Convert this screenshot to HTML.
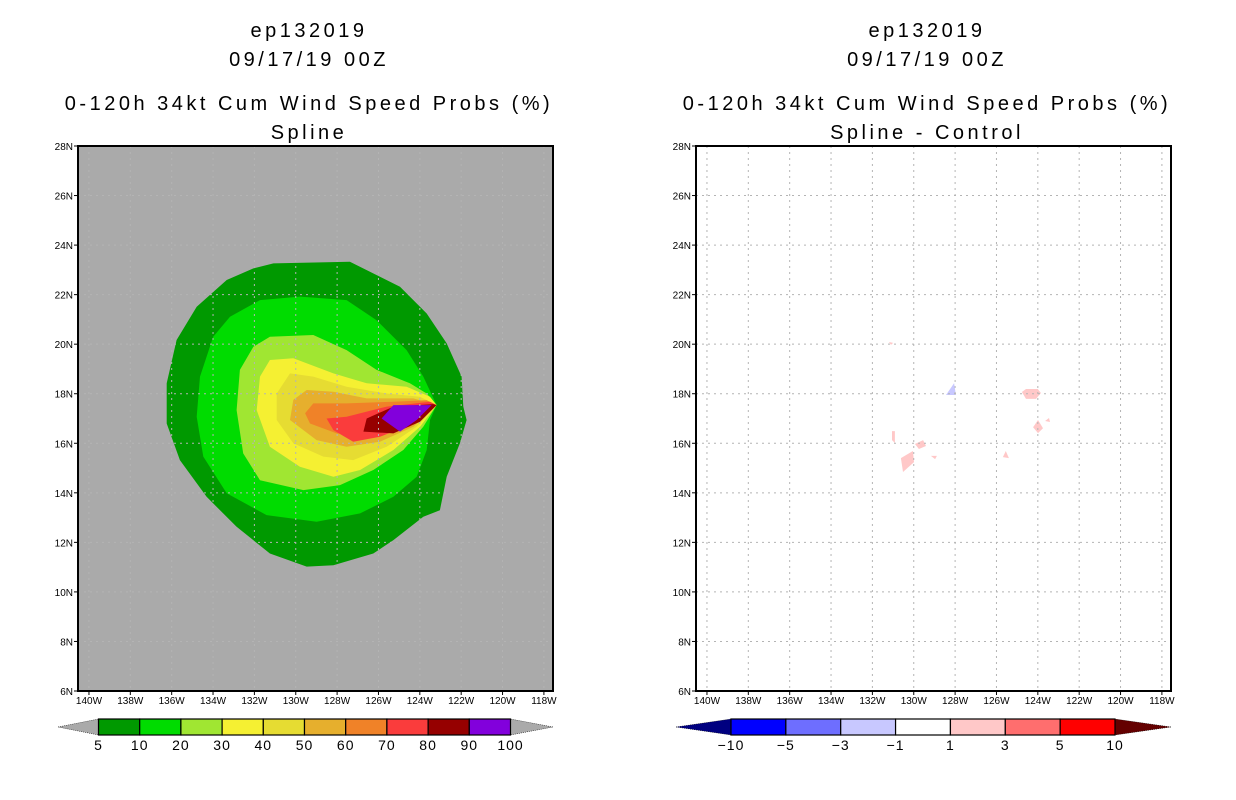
<!DOCTYPE html>
<html><head><meta charset="utf-8"><style>
body{margin:0;background:#fff;}
svg{display:block;font-family:"Liberation Sans",sans-serif;}
</style></head><body>
<svg id="s" width="1236" height="800"></svg>
<script>
const NS="http://www.w3.org/2000/svg";
const svg=document.getElementById('s');
// ---- data ----
const latTicks=[28,26,24,22,20,18,16,14,12,10,8,6];
const lonTicks=[140,138,136,134,132,130,128,126,124,122,120,118];
const leftLevels=["5","10","20","30","40","50","60","70","80","90","100"];
const leftColors=["#009900","#00dc00","#a0e632","#f5f032","#e6dc32","#e6af2d","#f08228","#fa3c3c","#960000","#8200dc"];
const rightLevels=["-10","-5","-3","-1","1","3","5","10"];
const rightColors=["#0000ff","#6e6eff","#c8c8ff","#ffffff","#ffc8c8","#ff6e6e","#ff0000"];
const c5Lon=[-131.08,-127.38,-124.96,-123.67,-122.70,-121.98,-121.90,-121.74,-122.06,-122.70,-123.03,-123.83,-125.28,-126.25,-128.18,-129.47,-131.25,-132.86,-134.31,-135.60,-136.24,-136.24,-135.76,-134.79,-133.34,-132.05];
const c5Lat=[23.26,23.33,22.32,21.24,20.03,18.69,17.48,16.94,16.00,14.65,13.30,13.03,12.09,11.55,11.08,11.02,11.55,12.63,13.84,15.32,16.80,18.42,20.17,21.51,22.59,23.06];
const c10Lon=[-131.73,-129.80,-127.54,-126.09,-124.64,-123.83,-123.19,-123.51,-123.67,-124.15,-125.28,-126.89,-128.99,-131.41,-133.34,-134.47,-134.79,-134.63,-133.99,-133.18];
const c10Lat=[21.78,21.92,21.78,20.97,19.76,18.69,17.54,16.94,15.73,14.65,13.84,13.17,12.83,13.10,13.98,15.46,17.07,18.69,20.30,21.11];
const c20Lon=[-131.25,-129.15,-127.54,-126.09,-124.48,-123.67,-123.19,-123.83,-124.80,-126.25,-127.86,-129.63,-131.73,-132.54,-132.86,-132.70,-132.05];
const c20Lat=[20.30,20.37,19.76,18.96,18.42,18.01,17.54,16.67,15.73,14.92,14.31,14.11,14.51,15.59,17.34,18.96,19.90];
const c30Lon=[-131.25,-130.12,-128.18,-126.57,-124.64,-123.51,-123.19,-123.99,-125.28,-126.89,-128.18,-129.80,-131.25,-131.89,-131.73];
const c30Lat=[19.36,19.43,18.82,18.42,18.28,17.88,17.54,16.67,15.73,14.92,14.65,15.05,15.86,17.34,18.69];
const c40Lon=[-130.28,-129.15,-127.54,-125.60,-123.99,-123.19,-124.15,-125.60,-127.22,-128.67,-130.12,-130.92,-130.92];
const c40Lat=[18.82,18.69,18.28,18.01,17.88,17.54,16.67,15.86,15.32,15.46,16.00,16.94,18.01];
const c50Lon=[-129.47,-128.18,-126.57,-124.31,-123.19,-124.31,-125.93,-127.54,-128.99,-130.28,-130.12];
const c50Lat=[18.15,18.08,17.81,17.81,17.54,16.67,16.06,15.86,16.13,16.94,17.75];
const c60Lon=[-129.15,-127.54,-125.28,-123.67,-123.19,-124.48,-126.25,-128.02,-129.31,-129.55];
const c60Lat=[17.61,17.61,17.68,17.74,17.54,16.67,16.26,16.40,16.80,17.21];
const c70Lon=[-128.51,-127.54,-125.60,-123.51,-123.19,-124.31,-125.93,-127.22,-128.18];
const c70Lat=[17.00,17.07,17.48,17.68,17.54,16.80,16.26,16.06,16.53];
const c80Lon=[-126.57,-125.28,-123.35,-123.19,-123.99,-125.28,-126.73];
const c80Lat=[17.00,17.48,17.58,17.54,16.87,16.40,16.47];
const c90Lon=[-125.85,-125.28,-123.43,-124.15,-124.96];
const c90Lat=[17.00,17.54,17.54,16.94,16.47];
const blueLon=[-128.44,-128.05,-127.96];
const blueLat=[17.95,18.43,17.95];
const pinkLons=[[-124.77,-124.57,-124.0,-123.85,-124.09,-124.57],[-124.23,-123.99,-123.75,-123.99],[-131.05,-130.91,-130.91,-131.05],[-130.62,-130.04,-129.99,-130.52],[-129.94,-129.55,-129.41,-129.75],[-129.17,-128.88,-128.97],[-125.69,-125.55,-125.40],[-123.65,-123.46,-123.41],[-131.20,-131.0,-131.1]];
const pinkLats=[[18.07,18.19,18.19,18.03,17.79,17.79],[16.65,16.94,16.61,16.41],[16.49,16.49,16.01,16.13],[15.40,15.69,15.24,14.84],[15.97,16.13,15.89,15.77],[15.49,15.49,15.36],[15.44,15.69,15.40],[16.90,17.02,16.86],[20.09,20.05,19.97]];
// ---- layout ----
const PW=475,TOP=146,BOT=691,LON0=-140.53,LON1=-117.56,LAT0=6,LAT1=28;
function mk(tag,attrs,parent,text){const e=document.createElementNS(NS,tag);for(const k in attrs)e.setAttribute(k,attrs[k]);if(text!==undefined)e.textContent=text;(parent||svg).appendChild(e);return e;}
function xs(x0){return lon=>x0+(lon-LON0)/(LON1-LON0)*PW;}
function ys(lat){return BOT-(lat-LAT0)/(LAT1-LAT0)*(BOT-TOP);}
function poly(g,X,lons,lats,fill,name){const pts=lons.map((l,i)=>X(l).toFixed(1)+','+ys(lats[i]).toFixed(1)).join(' ');
 const p=mk('polygon',{points:pts,fill:fill},g);
 
 }
function panel(x0,cx,sub,name,bg){
 const g=mk('g',{},svg);
 
 
 const X=xs(x0);
 const t=[["ep132019",37],["09/17/19 00Z",66],["0-120h 34kt Cum Wind Speed Probs (%)",110],[sub,139]];
 t.forEach((s,i)=>{const e=mk('text',{x:cx,y:s[1],'text-anchor':'middle','font-size':20,fill:'#000','letter-spacing':'3.5'},g,s[0]);
  
  });
 const bgr=mk('rect',{x:x0,y:TOP,width:PW,height:BOT-TOP,fill:bg},g);
 
 
 return {g,X};
}
function grid(g,X,x0){
 lonTicks.forEach(l=>{const x=X(-l);
  mk('line',{x1:x,x2:x,y1:TOP,y2:BOT,stroke:'#b4b4b4','stroke-dasharray':'2,4','stroke-width':1},g);
  mk('line',{x1:x,x2:x,y1:BOT,y2:BOT+4,stroke:'#000'},g);
  const t=mk('text',{x:x,y:BOT+13,'text-anchor':'middle','font-size':10},g,l+'W');
  
  });
 latTicks.forEach(l=>{const y=ys(l);
  mk('line',{x1:x0,x2:x0+PW,y1:y,y2:y,stroke:'#b4b4b4','stroke-dasharray':'2,4','stroke-width':1},g);
  mk('line',{x1:x0-4,x2:x0,y1:y,y2:y,stroke:'#000'},g);
  const t=mk('text',{x:x0-5,y:y+4,'text-anchor':'end','font-size':10},g,l+'N');
  
  });
 const f=mk('rect',{x:x0,y:TOP,width:PW,height:BOT-TOP,fill:'none',stroke:'#000','stroke-width':2},g);
 
 
}
// left
const L=panel(78,309,"Spline","left-panel","#aaaaaa");
const cs=[[c5Lon,c5Lat],[c10Lon,c10Lat],[c20Lon,c20Lat],[c30Lon,c30Lat],[c40Lon,c40Lat],[c50Lon,c50Lat],[c60Lon,c60Lat],[c70Lon,c70Lat],[c80Lon,c80Lat],[c90Lon,c90Lat]];
cs.forEach((c,i)=>poly(L.g,L.X,c[0],c[1],leftColors[i],'contour-'+leftLevels[i]));
grid(L.g,L.X,78);
// right
const R=panel(696,927,"Spline - Control","right-panel","#ffffff");
poly(R.g,R.X,blueLon,blueLat,'#c8c8ff','negative-diff-area');
pinkLons.forEach((p,i)=>poly(R.g,R.X,p,pinkLats[i],'#ffc8c8','positive-diff-area'));
grid(R.g,R.X,696);
// colorbars
function cbar(x0,x1,tipL,tipR,colors,labels,lc,rc,name){
 const g=mk('g',{},svg);
 
 
 const y0=719,y1=735,ym=727,w=(x1-x0)/colors.length;
 mk('polygon',{points:`${tipL},${ym} ${x0},${y0} ${x0},${y1}`,fill:lc,stroke:'#000','stroke-width':0.5,'stroke-dasharray':'1,1'},g);
 mk('polygon',{points:`${tipR},${ym} ${x1},${y0} ${x1},${y1}`,fill:rc,stroke:'#000','stroke-width':0.5,'stroke-dasharray':'1,1'},g);
 colors.forEach((c,i)=>{const r=mk('rect',{x:x0+i*w,y:y0,width:w,height:y1-y0,fill:c,stroke:'#000','stroke-width':1.2},g);
  
  });
 labels.forEach((l,i)=>{const t=mk('text',{x:x0+i*w,y:750,'text-anchor':'middle','font-size':14,'letter-spacing':'1'},g,l.replace('-','\u2212'));
  
  });
}
cbar(98.5,510.5,58,553,leftColors,leftLevels,'#aaaaaa','#aaaaaa','left-colorbar');
cbar(731,1115,676,1171,rightColors,rightLevels,'#000080','#640000','right-colorbar');
</script>
</body></html>
